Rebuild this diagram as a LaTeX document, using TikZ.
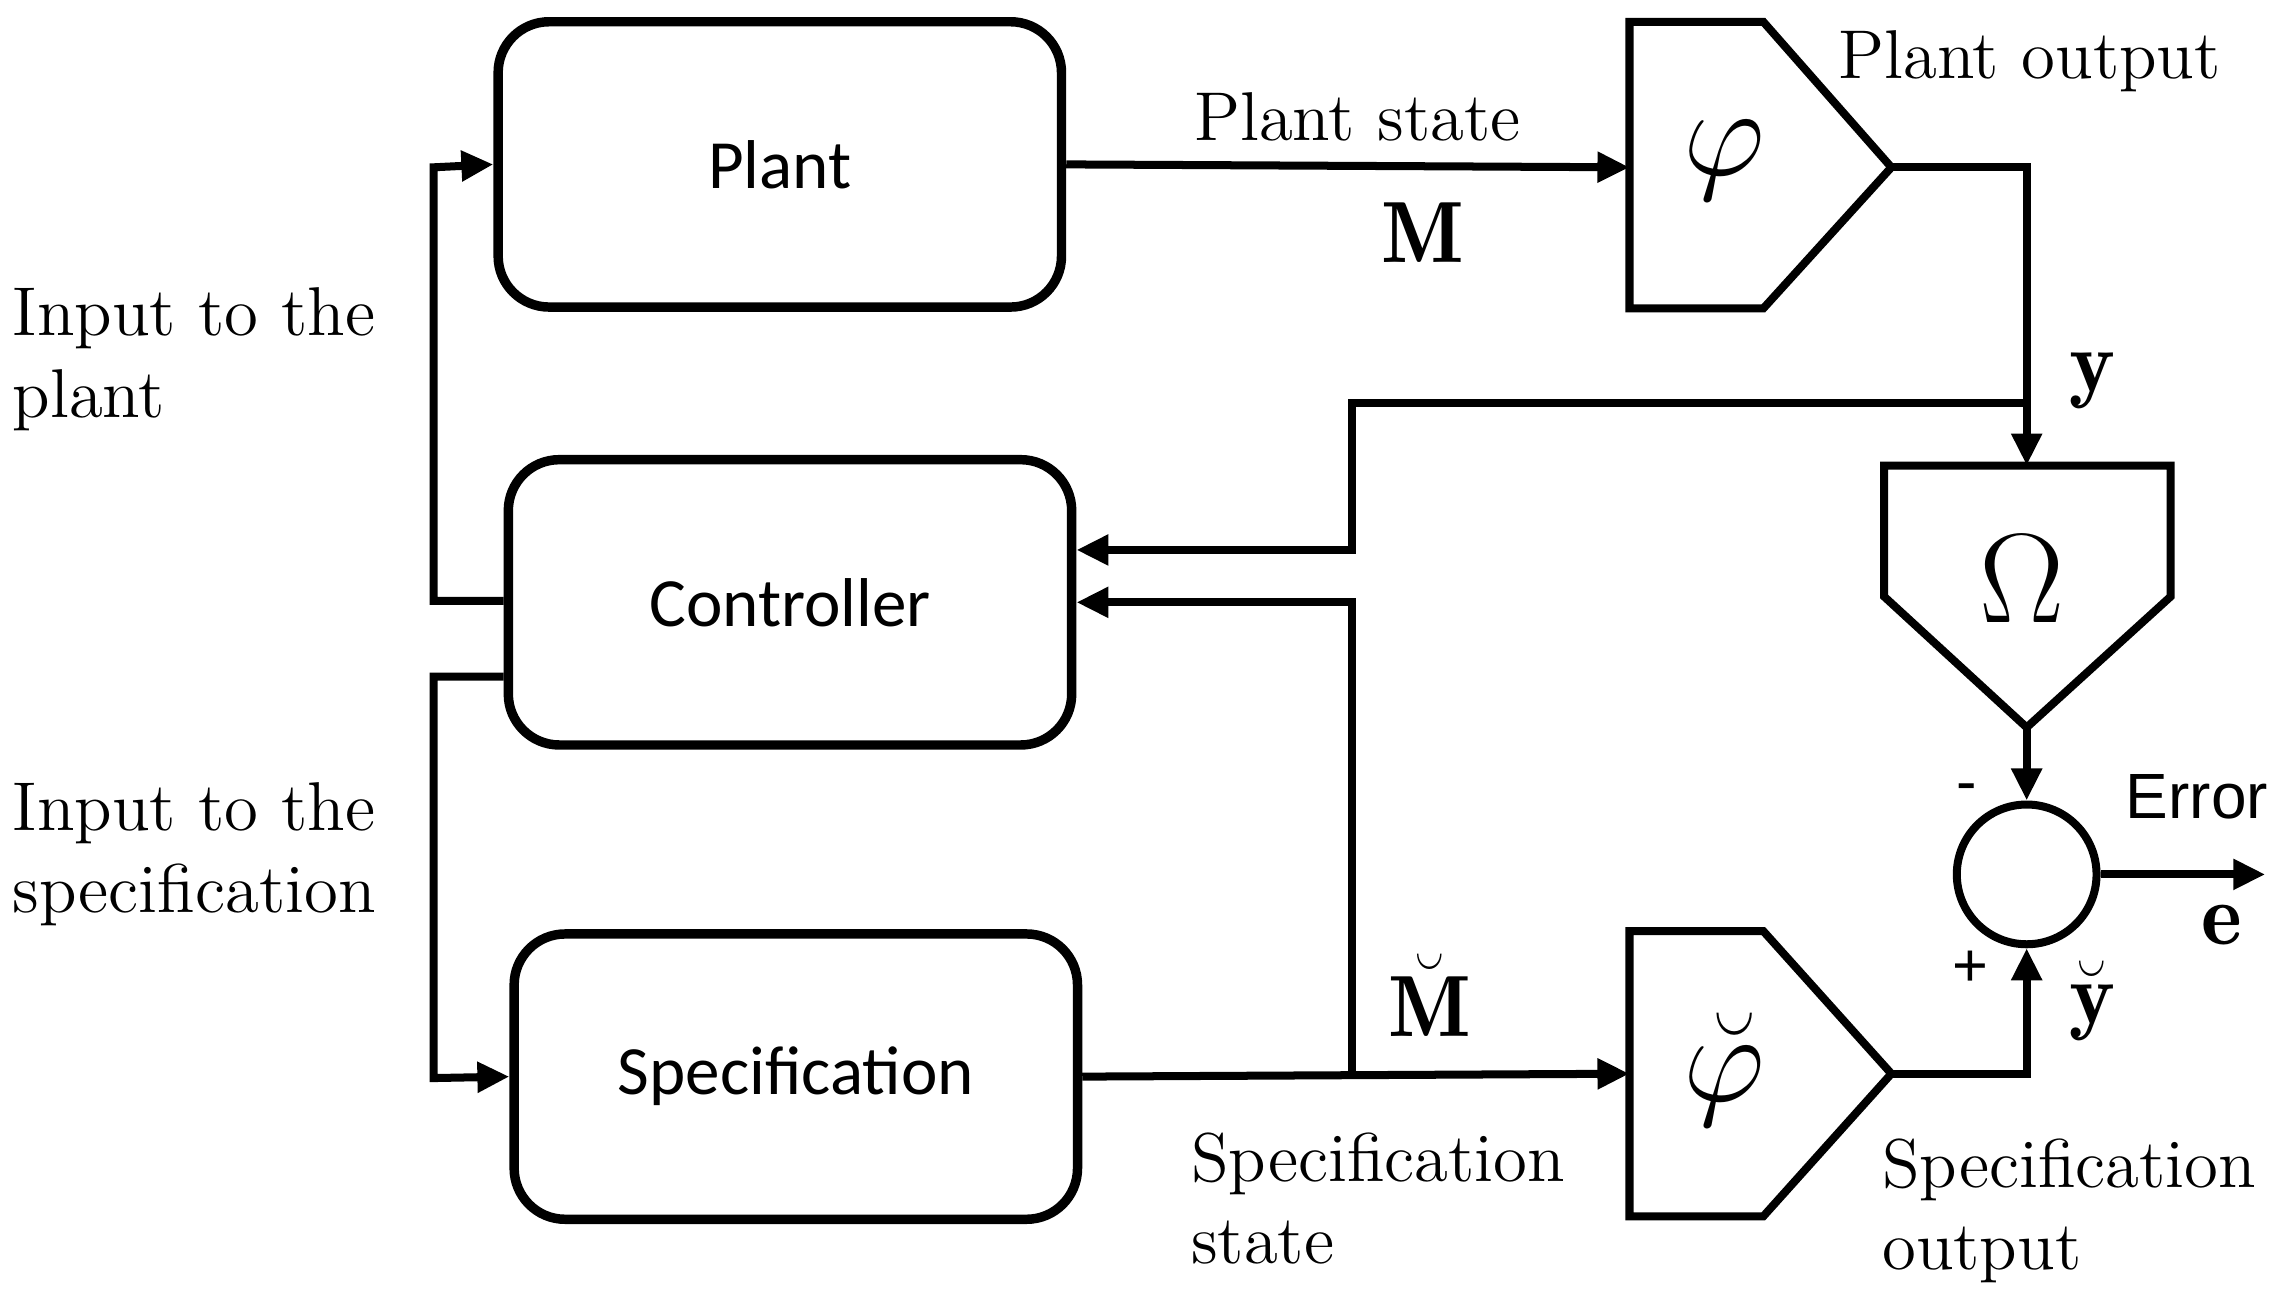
\documentclass[tikz,border=0pt]{standalone}
\usepackage{fontspec}
\usepackage{amsmath}
\newfontfamily\carl{Carlito}
\newfontfamily\arial{Liberation Sans}
\usetikzlibrary{arrows.meta}
\begin{document}
\begin{tikzpicture}[x=0.01cm,y=-0.01cm,
  ln/.style={line width=0.055cm},
  arr/.style={ln,-{Triangle[length=0.22cm,width=0.2cm]}},
  box/.style={draw,line width=0.065cm,rounded corners=0.35cm,minimum width=3.87cm,minimum height=1.96cm,font=\carl\fontsize{13.5}{16}\selectfont},
  lbl/.style={font=\fontsize{13.5}{17}\selectfont,inner sep=0pt},
  ml/.style={align=left,anchor=north west,font=\fontsize{13.5}{16}\selectfont,inner sep=0pt}]
\useasboundingbox (0,0) rectangle (1563,891);
\node[box] (plant) at (536,113) {Plant};
\node[box] (ctrl) at (543,414) {Controller};
\node[box] (spec) at (547,740) {Specification};
% phi
\coordinate (p1) at (1120,15); \coordinate (p2) at (1212,15); \coordinate (pt) at (1300,115);
\coordinate (p3) at (1212,212); \coordinate (p4) at (1120,212); \coordinate (pin) at (1120,115);
\draw[ln,line join=miter] (p1)--(p2)--(pt)--(p3)--(p4)--cycle;
\node at (1185,110) {\fontsize{24}{24}\selectfont$\varphi$};
% phi breve
\coordinate (q1) at (1120,640); \coordinate (q2) at (1212,640); \coordinate (qt) at (1300,738);
\coordinate (q3) at (1212,836); \coordinate (q4) at (1120,836); \coordinate (qin) at (1120,738);
\draw[ln,line join=miter] (q1)--(q2)--(qt)--(q3)--(q4)--cycle;
\node at (1185,735) {\fontsize{24}{24}\selectfont$\breve{\varphi}$};
% omega
\coordinate (o1) at (1295,320); \coordinate (o2) at (1492,320); \coordinate (o3) at (1492,410);
\coordinate (ob) at (1393,500); \coordinate (o4) at (1295,410); \coordinate (ot) at (1393,320);
\draw[ln,line join=miter] (o1)--(o2)--(o3)--(ob)--(o4)--cycle;
\node at (1390,398) {\fontsize{28}{28}\selectfont$\Omega$};
% sum
\node[circle,draw,line width=0.055cm,minimum size=0.96cm,inner sep=0pt] (sum) at (1393,601) {};
\coordinate (eend) at (1557,601);
% connectors
\draw[arr] (plant.east) -- (pin);
\draw[arr] (pt) -- (1393,115) -- (ot);
\coordinate (fb) at (1393,277);
\draw[arr] (fb) -- (929,277) -- (929,378) -- (ctrl.east |- 0,378);
\draw[arr] (spec.east) -- (qin);
\coordinate (br) at (929,740);
\draw[arr] (br) -- (929,414) -- (ctrl.east);
\draw[arr] (ob) -- (sum.north);
\draw[arr] (qt) -- (1393,738) -- (sum.south);
\draw[arr] (sum.east) -- (eend);
\draw[arr] (ctrl.west |- 0,413) -- (298,413) -- (298,115) -- (plant.west);
\draw[arr] (ctrl.west |- 0,465) -- (298,465) -- (298,741) -- (spec.west);
% labels
\node[lbl] (ls) at (933,80) {Plant state};
\node[lbl] (lm) at (978,160) {\fontsize{17}{17}\selectfont$\mathbf{M}$};
\node[lbl] (lpo) at (1395,42) {Plant output};
\node[lbl] (ly) at (1438,262) {\fontsize{17}{17}\selectfont$\mathbf{y}$};
\node[lbl] (lmin) at (1352,545) {\arial\fontsize{12}{12}\selectfont -};
\node[lbl] (lplus) at (1354,666) {\arial\fontsize{12}{12}\selectfont +};
\node[lbl] (lerr) at (1510,548) {\arial\fontsize{12.5}{12.5}\selectfont Error};
\node[lbl] (le) at (1527,636) {\fontsize{17}{17}\selectfont$\mathbf{e}$};
\node[lbl] (lyb) at (1438,688) {\fontsize{17}{17}\selectfont$\breve{\mathbf{y}}$};
\node[lbl] (lmb) at (983,684) {\fontsize{17}{17}\selectfont$\breve{\mathbf{M}}$};
\node[ml] (lss) at (818,778) {Specification\\state};
\node[ml] (lso) at (1293,782) {Specification\\output};
\node[ml] (lip) at (8,197) {Input to the\\plant};
\node[ml] (lis) at (8,537) {Input to the\\specification};
\end{tikzpicture}
\end{document}
